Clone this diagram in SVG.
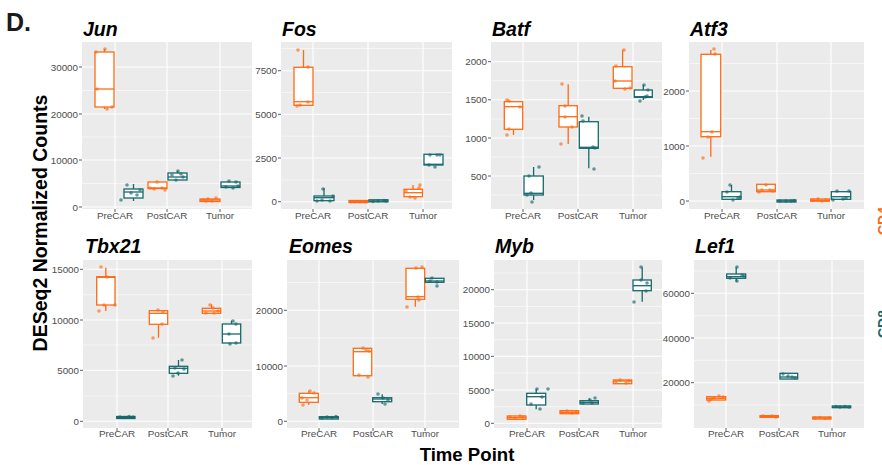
<svg xmlns="http://www.w3.org/2000/svg" width="882" height="465" viewBox="0 0 882 465">
<style>
text{font-family:"Liberation Sans",Arial,Helvetica,sans-serif}
.bg{fill:#ebebeb}
.mj{stroke:#fff;stroke-width:1.1}
.mn{stroke:#fff;stroke-width:0.55}
.tk{stroke:#333;stroke-width:0.8}
.yl{font-size:9.8px;fill:#4d4d4d;text-anchor:end}
.xl{font-size:9.9px;fill:#4d4d4d;text-anchor:middle}
.tt{font-size:19.5px;font-weight:bold;font-style:italic;fill:#000}
.o rect{fill:#fff;stroke:#ff6a13;stroke-width:1.3}
.o line{stroke:#ff6a13;stroke-width:1.3}
.o circle{fill:#ff6a13;fill-opacity:0.65}
.t rect{fill:#fff;stroke:#16696b;stroke-width:1.3}
.t line{stroke:#16696b;stroke-width:1.3}
.t circle{fill:#16696b;fill-opacity:0.65}
circle{r:1.8}
</style>
<rect width="882" height="465" fill="#fff"/>
<text x="6" y="31" font-size="25" font-weight="bold" fill="#1a1a1a">D.</text>
<text transform="translate(47,223) rotate(-90)" font-size="19.5" font-weight="bold" text-anchor="middle">DESeq2 Normalized Counts</text>
<text x="467" y="461" font-size="18.6" font-weight="bold" text-anchor="middle">Time Point</text>

<!-- Jun -->
<g id="jun">
<rect class="bg" x="82" y="42" width="170" height="167"/>
<g class="mn"><line x1="82" x2="252" y1="90.5" y2="90.5"/><line x1="82" x2="252" y1="137" y2="137"/><line x1="82" x2="252" y1="183.5" y2="183.5"/></g>
<g class="mj"><line x1="82" x2="252" y1="67" y2="67"/><line x1="82" x2="252" y1="114" y2="114"/><line x1="82" x2="252" y1="160" y2="160"/><line x1="82" x2="252" y1="207" y2="207"/><line x1="115" x2="115" y1="42" y2="209"/><line x1="167" x2="167" y1="42" y2="209"/><line x1="220" x2="220" y1="42" y2="209"/></g>
<g class="tk"><line x1="79" x2="82" y1="67" y2="67"/><line x1="79" x2="82" y1="114" y2="114"/><line x1="79" x2="82" y1="160" y2="160"/><line x1="79" x2="82" y1="207" y2="207"/><line x1="115" x2="115" y1="209" y2="212"/><line x1="167" x2="167" y1="209" y2="212"/><line x1="220" x2="220" y1="209" y2="212"/></g>
<text class="yl" x="78" y="70.5">30000</text><text class="yl" x="78" y="117.5">20000</text><text class="yl" x="78" y="163.5">10000</text><text class="yl" x="78" y="210.5">0</text>
<text class="xl" x="115" y="218.5">PreCAR</text><text class="xl" x="167" y="218.5">PostCAR</text><text class="xl" x="220" y="218.5">Tumor</text>
<text class="tt" x="83" y="36">Jun</text>
<g class="o"><line x1="104.5" x2="104.5" y1="49" y2="109"/><rect x="95" y="52" width="19" height="55"/><line x1="95" x2="114" y1="89" y2="89"/><circle cx="96" cy="52"/><circle cx="105" cy="49"/><circle cx="97" cy="89"/><circle cx="107" cy="109"/><circle cx="112" cy="107"/></g>
<g class="t"><line x1="133.5" x2="133.5" y1="184" y2="201"/><rect x="124" y="189" width="19" height="9"/><line x1="124" x2="143" y1="192" y2="192"/><circle cx="127" cy="185"/><circle cx="121" cy="200"/><circle cx="131" cy="193"/><circle cx="137" cy="195"/><circle cx="140" cy="190"/></g>
<g class="o"><rect x="148" y="182" width="19" height="6.5"/><line x1="148" x2="167" y1="188" y2="188"/><circle cx="150" cy="188"/><circle cx="157" cy="182"/><circle cx="162" cy="188"/><circle cx="165" cy="190"/><circle cx="154" cy="189"/></g>
<g class="t"><line x1="177.5" x2="177.5" y1="171" y2="173"/><rect x="168" y="173" width="19" height="7"/><line x1="168" x2="187" y1="177" y2="177"/><circle cx="178" cy="171"/><circle cx="172" cy="175"/><circle cx="183" cy="177"/><circle cx="176" cy="180"/><circle cx="181" cy="174"/></g>
<g class="o"><rect x="200" y="199" width="20" height="2.5"/><line x1="200" x2="220" y1="200" y2="200"/><circle cx="203" cy="200"/><circle cx="208" cy="199"/><circle cx="212" cy="201"/><circle cx="216" cy="198"/><circle cx="206" cy="201"/></g>
<g class="t"><rect x="221" y="182" width="19" height="5.5"/><line x1="221" x2="240" y1="186" y2="186"/><circle cx="229" cy="181"/><circle cx="236" cy="182"/><circle cx="226" cy="187"/><circle cx="233" cy="188"/><circle cx="238" cy="186"/></g>
</g>

<!-- Fos -->
<g id="fos">
<rect class="bg" x="281" y="42" width="171" height="167"/>
<g class="mn"><line x1="281" x2="452" y1="48.5" y2="48.5"/><line x1="281" x2="452" y1="92.5" y2="92.5"/><line x1="281" x2="452" y1="136.2" y2="136.2"/><line x1="281" x2="452" y1="180" y2="180"/></g>
<g class="mj"><line x1="281" x2="452" y1="70.7" y2="70.7"/><line x1="281" x2="452" y1="114.3" y2="114.3"/><line x1="281" x2="452" y1="158" y2="158"/><line x1="281" x2="452" y1="201.7" y2="201.7"/><line x1="313" x2="313" y1="42" y2="209"/><line x1="368" x2="368" y1="42" y2="209"/><line x1="423" x2="423" y1="42" y2="209"/></g>
<g class="tk"><line x1="278" x2="281" y1="70.7" y2="70.7"/><line x1="278" x2="281" y1="114.3" y2="114.3"/><line x1="278" x2="281" y1="158" y2="158"/><line x1="278" x2="281" y1="201.7" y2="201.7"/><line x1="313" x2="313" y1="209" y2="212"/><line x1="368" x2="368" y1="209" y2="212"/><line x1="423" x2="423" y1="209" y2="212"/></g>
<text class="yl" x="277" y="74.2">7500</text><text class="yl" x="277" y="117.8">5000</text><text class="yl" x="277" y="161.5">2500</text><text class="yl" x="277" y="205.2">0</text>
<text class="xl" x="313" y="218.5">PreCAR</text><text class="xl" x="368" y="218.5">PostCAR</text><text class="xl" x="423" y="218.5">Tumor</text>
<text class="tt" x="282" y="36">Fos</text>
<g class="o"><line x1="303.5" x2="303.5" y1="50" y2="67.3"/><rect x="294" y="67.3" width="19" height="38"/><line x1="294" x2="313" y1="101.7" y2="101.7"/><circle cx="298" cy="50"/><circle cx="308" cy="67"/><circle cx="308" cy="102"/><circle cx="297" cy="106"/><circle cx="300" cy="105"/></g>
<g class="t"><line x1="324" x2="324" y1="188" y2="196"/><rect x="314" y="196" width="20" height="4.7"/><line x1="314" x2="334" y1="197.7" y2="197.7"/><circle cx="323" cy="189"/><circle cx="322" cy="200"/><circle cx="330" cy="201"/><circle cx="333" cy="196"/><circle cx="317" cy="201"/></g>
<g class="o"><rect x="349" y="200.5" width="19" height="2"/><line x1="349" x2="368" y1="201.7" y2="201.7"/><circle cx="351" cy="201.7"/><circle cx="355" cy="201.7"/><circle cx="360" cy="201.7"/><circle cx="365" cy="201.7"/></g>
<g class="t"><rect x="369" y="199.8" width="19" height="2"/><line x1="369" x2="388" y1="201" y2="201"/><circle cx="373" cy="201.5"/><circle cx="378" cy="201"/><circle cx="384" cy="200.5"/><circle cx="386" cy="201"/></g>
<g class="o"><line x1="413" x2="413" y1="185" y2="197.7"/><rect x="404" y="189.3" width="18.5" height="7.4"/><line x1="404" x2="422.5" y1="192.7" y2="192.7"/><circle cx="406" cy="191"/><circle cx="410" cy="197"/><circle cx="415" cy="198"/><circle cx="419" cy="188"/><circle cx="420" cy="185"/></g>
<g class="t"><rect x="424" y="154.3" width="19" height="10.7"/><line x1="424" x2="443" y1="164.3" y2="164.3"/><circle cx="430" cy="155"/><circle cx="437" cy="155"/><circle cx="429" cy="165"/><circle cx="435" cy="167"/><circle cx="440" cy="155"/></g>
</g>

<!-- Batf -->
<g id="batf">
<rect class="bg" x="491" y="42" width="171" height="167"/>
<g class="mn"><line x1="491" x2="662" y1="80.7" y2="80.7"/><line x1="491" x2="662" y1="119" y2="119"/><line x1="491" x2="662" y1="157" y2="157"/><line x1="491" x2="662" y1="195" y2="195"/></g>
<g class="mj"><line x1="491" x2="662" y1="61.7" y2="61.7"/><line x1="491" x2="662" y1="99.8" y2="99.8"/><line x1="491" x2="662" y1="138" y2="138"/><line x1="491" x2="662" y1="176" y2="176"/><line x1="523" x2="523" y1="42" y2="209"/><line x1="578" x2="578" y1="42" y2="209"/><line x1="633" x2="633" y1="42" y2="209"/></g>
<g class="tk"><line x1="488" x2="491" y1="61.7" y2="61.7"/><line x1="488" x2="491" y1="99.8" y2="99.8"/><line x1="488" x2="491" y1="138" y2="138"/><line x1="488" x2="491" y1="176" y2="176"/><line x1="523" x2="523" y1="209" y2="212"/><line x1="578" x2="578" y1="209" y2="212"/><line x1="633" x2="633" y1="209" y2="212"/></g>
<text class="yl" x="487" y="65.2">2000</text><text class="yl" x="487" y="103.3">1500</text><text class="yl" x="487" y="141.5">1000</text><text class="yl" x="487" y="179.5">500</text>
<text class="xl" x="523" y="218.5">PreCAR</text><text class="xl" x="578" y="218.5">PostCAR</text><text class="xl" x="633" y="218.5">Tumor</text>
<text class="tt" x="492" y="36">Batf</text>
<g class="o"><line x1="513.5" x2="513.5" y1="101.7" y2="135"/><rect x="504.3" y="101.7" width="18.4" height="27.6"/><line x1="504.3" x2="522.7" y1="106.7" y2="106.7"/><circle cx="507" cy="100"/><circle cx="509" cy="101"/><circle cx="520" cy="107"/><circle cx="509" cy="129"/><circle cx="507" cy="135"/></g>
<g class="t"><line x1="533.6" x2="533.6" y1="167" y2="200"/><rect x="524" y="176" width="19.3" height="19"/><line x1="524" x2="543.3" y1="193.3" y2="193.3"/><circle cx="529" cy="176"/><circle cx="539" cy="167"/><circle cx="527" cy="195"/><circle cx="531" cy="193"/><circle cx="532" cy="202"/></g>
<g class="o"><line x1="568.2" x2="568.2" y1="84.3" y2="144"/><rect x="559" y="105.7" width="18.3" height="21.3"/><line x1="559" x2="577.3" y1="116.7" y2="116.7"/><circle cx="562" cy="84"/><circle cx="565" cy="106"/><circle cx="565" cy="117"/><circle cx="572" cy="127"/><circle cx="561" cy="144"/></g>
<g class="t"><line x1="588.8" x2="588.8" y1="116.7" y2="168.3"/><rect x="579.3" y="121.7" width="19" height="26.6"/><line x1="579.3" x2="598.3" y1="147.3" y2="147.3"/><circle cx="582" cy="116"/><circle cx="583" cy="121"/><circle cx="593" cy="147"/><circle cx="595" cy="148"/><circle cx="594" cy="169"/></g>
<g class="o"><line x1="622.6" x2="622.6" y1="50" y2="88.3"/><rect x="613.3" y="66.7" width="18.7" height="21.6"/><line x1="613.3" x2="632" y1="81" y2="81"/><circle cx="624" cy="50"/><circle cx="616" cy="66"/><circle cx="615" cy="81"/><circle cx="625" cy="89"/><circle cx="630" cy="88"/></g>
<g class="t"><line x1="643.3" x2="643.3" y1="85" y2="100"/><rect x="634.3" y="90" width="18" height="7.3"/><line x1="634.3" x2="652.3" y1="96.7" y2="96.7"/><circle cx="644" cy="85"/><circle cx="648" cy="90"/><circle cx="647" cy="96"/><circle cx="640" cy="101"/><circle cx="645" cy="97"/></g>
</g>

<!-- Atf3 -->
<g id="atf3">
<rect class="bg" x="689" y="42" width="175" height="167"/>
<g class="mn"><line x1="689" x2="864" y1="63.5" y2="63.5"/><line x1="689" x2="864" y1="118.5" y2="118.5"/><line x1="689" x2="864" y1="173.5" y2="173.5"/></g>
<g class="mj"><line x1="689" x2="864" y1="91" y2="91"/><line x1="689" x2="864" y1="146" y2="146"/><line x1="689" x2="864" y1="201" y2="201"/><line x1="722" x2="722" y1="42" y2="209"/><line x1="777" x2="777" y1="42" y2="209"/><line x1="831" x2="831" y1="42" y2="209"/></g>
<g class="tk"><line x1="686" x2="689" y1="91" y2="91"/><line x1="686" x2="689" y1="146" y2="146"/><line x1="686" x2="689" y1="201" y2="201"/><line x1="722" x2="722" y1="209" y2="212"/><line x1="777" x2="777" y1="209" y2="212"/><line x1="831" x2="831" y1="209" y2="212"/></g>
<text class="yl" x="685" y="94.5">2000</text><text class="yl" x="685" y="149.5">1000</text><text class="yl" x="685" y="204.5">0</text>
<text class="xl" x="722" y="218.5">PreCAR</text><text class="xl" x="777" y="218.5">PostCAR</text><text class="xl" x="831" y="218.5">Tumor</text>
<text class="tt" x="690" y="36">Atf3</text>
<g class="o"><line x1="710.8" x2="710.8" y1="50" y2="156.7"/><rect x="701" y="54.3" width="19.7" height="82.4"/><line x1="701" x2="720.7" y1="131.7" y2="131.7"/><circle cx="714" cy="49"/><circle cx="715" cy="54"/><circle cx="708" cy="137"/><circle cx="712" cy="132"/><circle cx="703" cy="158"/></g>
<g class="t"><line x1="731.5" x2="731.5" y1="185" y2="191.7"/><rect x="722" y="191.7" width="19" height="7.6"/><line x1="722" x2="741" y1="196.7" y2="196.7"/><circle cx="730" cy="185"/><circle cx="727" cy="192"/><circle cx="733" cy="200"/><circle cx="738" cy="198"/><circle cx="740" cy="197"/></g>
<g class="o"><rect x="756.7" y="184.3" width="18.6" height="7.4"/><line x1="756.7" x2="775.3" y1="190" y2="190"/><circle cx="759" cy="192"/><circle cx="766" cy="185"/><circle cx="770" cy="190"/><circle cx="773" cy="191"/><circle cx="762" cy="190"/></g>
<g class="t"><rect x="777" y="200" width="19" height="2"/><line x1="777" x2="796" y1="201" y2="201"/><circle cx="780" cy="201"/><circle cx="786" cy="201"/><circle cx="791" cy="201"/><circle cx="794" cy="200.5"/></g>
<g class="o"><rect x="810.7" y="199" width="18.6" height="2.2"/><line x1="810.7" x2="829.3" y1="200.3" y2="200.3"/><circle cx="813" cy="200"/><circle cx="818" cy="199"/><circle cx="822" cy="201"/><circle cx="826" cy="200"/></g>
<g class="t"><rect x="831.3" y="191.7" width="19.4" height="7.6"/><line x1="831.3" x2="850.7" y1="196.7" y2="196.7"/><circle cx="837" cy="191"/><circle cx="849" cy="191"/><circle cx="833" cy="200"/><circle cx="846" cy="198"/><circle cx="843" cy="199"/></g>
</g>

<!-- Tbx21 -->
<g id="tbx21">
<rect class="bg" x="83" y="260" width="169" height="168"/>
<g class="mn"><line x1="83" x2="252" y1="294.7" y2="294.7"/><line x1="83" x2="252" y1="345" y2="345"/><line x1="83" x2="252" y1="396" y2="396"/></g>
<g class="mj"><line x1="83" x2="252" y1="269.3" y2="269.3"/><line x1="83" x2="252" y1="320" y2="320"/><line x1="83" x2="252" y1="370.3" y2="370.3"/><line x1="83" x2="252" y1="421.3" y2="421.3"/><line x1="117" x2="117" y1="260" y2="428"/><line x1="168" x2="168" y1="260" y2="428"/><line x1="222" x2="222" y1="260" y2="428"/></g>
<g class="tk"><line x1="80" x2="83" y1="269.3" y2="269.3"/><line x1="80" x2="83" y1="320" y2="320"/><line x1="80" x2="83" y1="370.3" y2="370.3"/><line x1="80" x2="83" y1="421.3" y2="421.3"/><line x1="117" x2="117" y1="428" y2="431"/><line x1="168" x2="168" y1="428" y2="431"/><line x1="222" x2="222" y1="428" y2="431"/></g>
<text class="yl" x="79" y="272.8">15000</text><text class="yl" x="79" y="323.5">10000</text><text class="yl" x="79" y="373.8">5000</text><text class="yl" x="79" y="424.8">0</text>
<text class="xl" x="117" y="437">PreCAR</text><text class="xl" x="168" y="437">PostCAR</text><text class="xl" x="222" y="437">Tumor</text>
<text class="tt" x="85" y="253">Tbx21</text>
<g class="o"><line x1="105.8" x2="105.8" y1="267.7" y2="311"/><rect x="96.7" y="276.7" width="18.3" height="28.3"/><line x1="96.7" x2="115" y1="277.3" y2="277.3"/><circle cx="101" cy="267"/><circle cx="107" cy="277"/><circle cx="115" cy="305"/><circle cx="99" cy="311"/><circle cx="104" cy="305"/></g>
<g class="t"><rect x="116.7" y="416.5" width="18.3" height="2"/><line x1="116.7" x2="135" y1="417.5" y2="417.5"/><circle cx="120" cy="417"/><circle cx="125" cy="417.5"/><circle cx="129" cy="416.5"/><circle cx="133" cy="417"/></g>
<g class="o"><line x1="158.5" x2="158.5" y1="324.3" y2="337.7"/><rect x="149.3" y="310.7" width="18.4" height="13.6"/><line x1="149.3" x2="167.7" y1="313.3" y2="313.3"/><circle cx="158" cy="310"/><circle cx="163" cy="312"/><circle cx="162" cy="324"/><circle cx="153" cy="338"/></g>
<g class="t"><line x1="178.5" x2="178.5" y1="360" y2="375.7"/><rect x="169.3" y="366.3" width="18.4" height="7"/><line x1="169.3" x2="187.7" y1="368.3" y2="368.3"/><circle cx="182" cy="360"/><circle cx="175" cy="368"/><circle cx="178" cy="373"/><circle cx="173" cy="376"/><circle cx="184" cy="369"/></g>
<g class="o"><line x1="211.5" x2="211.5" y1="304.3" y2="308.3"/><rect x="202.3" y="308.3" width="18.4" height="5"/><line x1="202.3" x2="220.7" y1="311" y2="311"/><circle cx="210" cy="305"/><circle cx="213" cy="308"/><circle cx="218" cy="311"/><circle cx="206" cy="313"/><circle cx="214" cy="313"/></g>
<g class="t"><line x1="231.5" x2="231.5" y1="320.7" y2="324"/><rect x="222.3" y="324" width="18.4" height="19"/><line x1="222.3" x2="240.7" y1="334" y2="334"/><circle cx="233" cy="321"/><circle cx="236" cy="324"/><circle cx="229" cy="334"/><circle cx="236" cy="343"/><circle cx="230" cy="344"/></g>
</g>

<!-- Eomes -->
<g id="eomes">
<rect class="bg" x="287" y="260" width="172" height="168"/>
<g class="mn"><line x1="287" x2="459" y1="282.5" y2="282.5"/><line x1="287" x2="459" y1="338" y2="338"/><line x1="287" x2="459" y1="393.7" y2="393.7"/></g>
<g class="mj"><line x1="287" x2="459" y1="310.3" y2="310.3"/><line x1="287" x2="459" y1="366" y2="366"/><line x1="287" x2="459" y1="421.3" y2="421.3"/><line x1="319" x2="319" y1="260" y2="428"/><line x1="373" x2="373" y1="260" y2="428"/><line x1="425" x2="425" y1="260" y2="428"/></g>
<g class="tk"><line x1="284" x2="287" y1="310.3" y2="310.3"/><line x1="284" x2="287" y1="366" y2="366"/><line x1="284" x2="287" y1="421.3" y2="421.3"/><line x1="319" x2="319" y1="428" y2="431"/><line x1="373" x2="373" y1="428" y2="431"/><line x1="425" x2="425" y1="428" y2="431"/></g>
<text class="yl" x="283" y="313.8">20000</text><text class="yl" x="283" y="369.5">10000</text><text class="yl" x="283" y="424.8">0</text>
<text class="xl" x="319" y="437">PreCAR</text><text class="xl" x="373" y="437">PostCAR</text><text class="xl" x="425" y="437">Tumor</text>
<text class="tt" x="289" y="253">Eomes</text>
<g class="o"><line x1="308.8" x2="308.8" y1="391" y2="405"/><rect x="299.3" y="393.3" width="19" height="9"/><line x1="299.3" x2="318.3" y1="397.7" y2="397.7"/><circle cx="310" cy="391"/><circle cx="302" cy="398"/><circle cx="307" cy="400"/><circle cx="303" cy="405"/><circle cx="314" cy="393"/></g>
<g class="t"><rect x="319.3" y="416.7" width="19" height="2.3"/><line x1="319.3" x2="338.3" y1="417.7" y2="417.7"/><circle cx="322" cy="418"/><circle cx="327" cy="417"/><circle cx="332" cy="417.5"/><circle cx="336" cy="416.5"/></g>
<g class="o"><rect x="353.3" y="348.3" width="18.4" height="27.4"/><line x1="353.3" x2="371.7" y1="351.7" y2="351.7"/><circle cx="363" cy="348"/><circle cx="366" cy="350"/><circle cx="369" cy="351"/><circle cx="359" cy="375"/><circle cx="368" cy="377"/></g>
<g class="t"><line x1="382.2" x2="382.2" y1="394.3" y2="404"/><rect x="372.7" y="397.7" width="19" height="4"/><line x1="372.7" x2="391.7" y1="399" y2="399"/><circle cx="378" cy="394"/><circle cx="383" cy="398"/><circle cx="388" cy="400"/><circle cx="385" cy="404"/></g>
<g class="o"><line x1="415.3" x2="415.3" y1="299.3" y2="306.7"/><rect x="406" y="268.3" width="18.7" height="31"/><line x1="406" x2="424.7" y1="296.7" y2="296.7"/><circle cx="407" cy="307"/><circle cx="418" cy="297"/><circle cx="419" cy="300"/><circle cx="422" cy="267"/><circle cx="416" cy="268"/></g>
<g class="t"><rect x="425.3" y="278.3" width="18.7" height="4"/><line x1="425.3" x2="444" y1="281" y2="281"/><circle cx="432" cy="278"/><circle cx="437" cy="282"/><circle cx="437" cy="286"/><circle cx="430" cy="281"/></g>
</g>

<!-- Myb -->
<g id="myb">
<rect class="bg" x="494" y="260" width="168" height="168"/>
<g class="mn"><line x1="494" x2="662" y1="273" y2="273"/><line x1="494" x2="662" y1="306.5" y2="306.5"/><line x1="494" x2="662" y1="339.7" y2="339.7"/><line x1="494" x2="662" y1="373" y2="373"/><line x1="494" x2="662" y1="406.7" y2="406.7"/></g>
<g class="mj"><line x1="494" x2="662" y1="289.7" y2="289.7"/><line x1="494" x2="662" y1="323" y2="323"/><line x1="494" x2="662" y1="356.3" y2="356.3"/><line x1="494" x2="662" y1="390" y2="390"/><line x1="494" x2="662" y1="423.3" y2="423.3"/><line x1="527" x2="527" y1="260" y2="428"/><line x1="579" x2="579" y1="260" y2="428"/><line x1="633" x2="633" y1="260" y2="428"/></g>
<g class="tk"><line x1="491" x2="494" y1="289.7" y2="289.7"/><line x1="491" x2="494" y1="323" y2="323"/><line x1="491" x2="494" y1="356.3" y2="356.3"/><line x1="491" x2="494" y1="390" y2="390"/><line x1="491" x2="494" y1="423.3" y2="423.3"/><line x1="527" x2="527" y1="428" y2="431"/><line x1="579" x2="579" y1="428" y2="431"/><line x1="633" x2="633" y1="428" y2="431"/></g>
<text class="yl" x="490" y="293.2">20000</text><text class="yl" x="490" y="326.5">15000</text><text class="yl" x="490" y="359.8">10000</text><text class="yl" x="490" y="393.5">5000</text><text class="yl" x="490" y="426.8">0</text>
<text class="xl" x="527" y="437">PreCAR</text><text class="xl" x="579" y="437">PostCAR</text><text class="xl" x="633" y="437">Tumor</text>
<text class="tt" x="495" y="253">Myb</text>
<g class="o"><rect x="507.3" y="416" width="18.7" height="3.3"/><line x1="507.3" x2="526" y1="417.7" y2="417.7"/><circle cx="510" cy="417"/><circle cx="515" cy="418"/><circle cx="520" cy="416"/><circle cx="523" cy="417"/></g>
<g class="t"><line x1="536.2" x2="536.2" y1="389" y2="409.3"/><rect x="526.7" y="393.3" width="19" height="11.7"/><line x1="526.7" x2="545.7" y1="396.7" y2="396.7"/><circle cx="537" cy="389"/><circle cx="548" cy="389"/><circle cx="542" cy="397"/><circle cx="531" cy="404"/><circle cx="540" cy="409"/></g>
<g class="o"><rect x="560" y="410.7" width="18.7" height="3"/><line x1="560" x2="578.7" y1="412.3" y2="412.3"/><circle cx="562" cy="412"/><circle cx="567" cy="411"/><circle cx="572" cy="413"/><circle cx="576" cy="412"/></g>
<g class="t"><line x1="589.2" x2="589.2" y1="398.3" y2="400.7"/><rect x="580" y="400.7" width="18.3" height="3.3"/><line x1="580" x2="598.3" y1="402.3" y2="402.3"/><circle cx="583" cy="403"/><circle cx="590" cy="400"/><circle cx="595" cy="398"/><circle cx="592" cy="403"/></g>
<g class="o"><rect x="613.3" y="380" width="18.4" height="3.7"/><line x1="613.3" x2="631.7" y1="381" y2="381"/><circle cx="616" cy="382"/><circle cx="620" cy="380"/><circle cx="626" cy="383"/><circle cx="629" cy="381"/></g>
<g class="t"><line x1="642.2" x2="642.2" y1="267.3" y2="301.7"/><rect x="633" y="280" width="18.3" height="10.7"/><line x1="633" x2="651.3" y1="285.7" y2="285.7"/><circle cx="641" cy="267"/><circle cx="641" cy="280"/><circle cx="647" cy="283"/><circle cx="646" cy="291"/><circle cx="634" cy="302"/></g>
</g>

<!-- Lef1 -->
<g id="lef1">
<rect class="bg" x="694" y="260" width="170" height="168"/>
<g class="mn"><line x1="694" x2="864" y1="271" y2="271"/><line x1="694" x2="864" y1="315.7" y2="315.7"/><line x1="694" x2="864" y1="360.3" y2="360.3"/><line x1="694" x2="864" y1="405" y2="405"/></g>
<g class="mj"><line x1="694" x2="864" y1="293.3" y2="293.3"/><line x1="694" x2="864" y1="338" y2="338"/><line x1="694" x2="864" y1="382.7" y2="382.7"/><line x1="726" x2="726" y1="260" y2="428"/><line x1="779" x2="779" y1="260" y2="428"/><line x1="832" x2="832" y1="260" y2="428"/></g>
<g class="tk"><line x1="691" x2="694" y1="293.3" y2="293.3"/><line x1="691" x2="694" y1="338" y2="338"/><line x1="691" x2="694" y1="382.7" y2="382.7"/><line x1="726" x2="726" y1="428" y2="431"/><line x1="779" x2="779" y1="428" y2="431"/><line x1="832" x2="832" y1="428" y2="431"/></g>
<text class="yl" x="690" y="296.8">60000</text><text class="yl" x="690" y="341.5">40000</text><text class="yl" x="690" y="386.2">20000</text>
<text class="xl" x="726" y="437">PreCAR</text><text class="xl" x="779" y="437">PostCAR</text><text class="xl" x="832" y="437">Tumor</text>
<text class="tt" x="695" y="253">Lef1</text>
<g class="o"><rect x="706.7" y="396.7" width="19" height="3.3"/><line x1="706.7" x2="725.7" y1="398.3" y2="398.3"/><circle cx="709" cy="401"/><circle cx="719" cy="396"/><circle cx="714" cy="398"/><circle cx="711" cy="399"/><circle cx="723" cy="397"/></g>
<g class="t"><line x1="736.2" x2="736.2" y1="267.3" y2="281.7"/><rect x="726.7" y="274" width="19" height="4.3"/><line x1="726.7" x2="745.7" y1="276.7" y2="276.7"/><circle cx="737" cy="267"/><circle cx="742" cy="275"/><circle cx="737" cy="281"/><circle cx="730" cy="278"/><circle cx="744" cy="276"/></g>
<g class="o"><rect x="760" y="415.7" width="18.3" height="1.6"/><line x1="760" x2="778.3" y1="416.5" y2="416.5"/><circle cx="763" cy="416"/><circle cx="768" cy="416.5"/><circle cx="772" cy="416"/><circle cx="776" cy="417"/></g>
<g class="t"><rect x="780" y="373.3" width="17.7" height="5.7"/><line x1="780" x2="797.7" y1="377" y2="377"/><circle cx="783" cy="374"/><circle cx="788" cy="376"/><circle cx="792" cy="377"/><circle cx="795" cy="378"/></g>
<g class="o"><rect x="812.7" y="417" width="18.3" height="2"/><line x1="812.7" x2="831" y1="418" y2="418"/><circle cx="815" cy="418"/><circle cx="820" cy="417.5"/><circle cx="825" cy="418.5"/><circle cx="829" cy="418"/></g>
<g class="t"><rect x="832.3" y="406" width="18.4" height="1.7"/><line x1="832.3" x2="850.7" y1="407" y2="407"/><circle cx="836" cy="406.5"/><circle cx="840" cy="407"/><circle cx="845" cy="406.5"/><circle cx="849" cy="407"/></g>
</g>

<!-- cut-off legend labels at right edge (as in the reference) -->
<g id="legend">
<text transform="translate(888,235) rotate(-90)" font-size="14" font-weight="bold" fill="#ff6a13">CD4</text>
<text transform="translate(888,338) rotate(-90)" font-size="14" font-weight="bold" fill="#16696b">CD8</text>
</g>
</svg>
